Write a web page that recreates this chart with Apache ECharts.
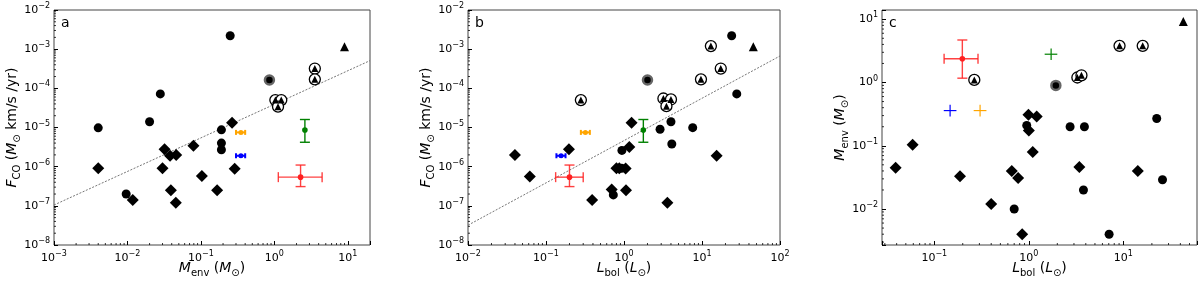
<!DOCTYPE html>
<html><head><meta charset="utf-8">
<script src="https://cdn.jsdelivr.net/npm/echarts@6/dist/echarts.min.js"></script>
<style>html,body{margin:0;padding:0;background:#fff}#c{width:1200px;height:281px}</style>
</head><body><div id="c"></div>
<script>
// ---------------- data ----------------
// panel a: Menv (Msun) vs F_CO
const aCircles = [[0.004,9.8e-6],[0.028,7.2e-5],[0.020,1.4e-5],[0.25,2.2e-3],[0.19,8.7e-6],[0.19,4.0e-6],[0.19,2.7e-6],[0.0096,2.0e-7]];
const aDiamonds = [[0.004,9.1e-7],[0.032,2.8e-6],[0.038,1.9e-6],[0.046,2.0e-6],[0.030,9.1e-7],[0.039,2.5e-7],[0.0455,1.2e-7],[0.0118,1.4e-7],[0.079,3.4e-6],[0.103,5.8e-7],[0.166,2.5e-7],[0.288,8.9e-7],[0.265,1.33e-5]];
const aRingTri = [[3.55,3.2e-4],[3.55,1.7e-4],[1.03,5.0e-5],[1.24,5.0e-5],[1.12,3.4e-5]];
const aRingCircle = [[0.855,1.63e-4]];
const aTriangle = [[9.0,1.16e-3]];
// error points: [x, y, xlo, xhi, ylo, yhi]
const aOrange = [0.35,7.5e-6,0.30,0.40,7.5e-6,7.5e-6];
const aBlue = [0.35,1.9e-6,0.30,0.40,1.9e-6,1.9e-6];
const aGreen = [2.6,8.6e-6,2.6,2.6,4.2e-6,1.6e-5];
const aRed = [2.27,5.4e-7,1.13,4.46,3.1e-7,1.1e-6];
const aFitX = [0.001,20];
const aFitY = [1.05e-7,5.1e-4];

// panel b: Lbol (Lsun) vs F_CO
const bCircles = [[0.73,1.9e-7],[0.93,9.1e-7],[0.94,2.6e-6],[2.9,9.0e-6],[4.0,1.4e-5],[7.6,9.9e-6],[4.1,3.8e-6],[27.9,7.2e-5],[24,2.2e-3]];
const bDiamonds = [[0.04,2.0e-6],[0.062,5.6e-7],[0.197,2.8e-6],[0.39,1.4e-7],[1.25,1.33e-5],[0.80,9.1e-7],[0.87,9.1e-7],[1.05,9.0e-7],[0.695,2.6e-7],[1.06,2.5e-7],[3.6,1.2e-7],[15.4,1.9e-6],[1.17,3.2e-6]];
const bRingTri = [[0.28,5.0e-5],[13,1.2e-3],[17.4,3.2e-4],[9.7,1.7e-4],[3.2,5.5e-5],[4.0,5.2e-5],[3.5,3.5e-5]];
const bRingCircle = [[2.0,1.63e-4]];
const bTriangle = [[45.5,1.16e-3]];
const bOrange = [0.32,7.5e-6,0.28,0.365,7.5e-6,7.5e-6];
const bBlue = [0.156,1.9e-6,0.136,0.178,1.9e-6,1.9e-6];
const bGreen = [1.77,8.6e-6,1.77,1.77,4.2e-6,1.6e-5];
const bRed = [0.2,5.4e-7,0.133,0.30,3.1e-7,1.1e-6];
const bFitX = [0.01,100];
const bFitY = [3.2e-8,6.7e-4];

// panel c: Lbol vs Menv
const cCircles = [[0.95,0.21],[2.73,0.2],[3.87,0.2],[22.5,0.27],[25.9,0.029],[3.78,0.02],[0.70,0.01],[7.06,0.004]];
const cDiamonds = [[0.99,0.31],[1.21,0.29],[1.0,0.175],[1.1,0.08],[0.66,0.04],[0.77,0.031],[3.42,0.046],[14.2,0.04],[0.40,0.012],[0.85,0.004],[0.039,0.045],[0.059,0.104],[0.187,0.033]];
const cRingTri = [[0.265,1.1],[9.1,3.8],[16,3.8],[3.26,1.2],[3.6,1.3]];
const cRingCircle = [[1.93,0.9]];
const cTriangle = [[43,9.2]];
const cRed = [0.198,2.37,0.127,0.29,1.17,4.7];
const cBlue = [0.147,0.36,0.126,0.1715,0.291,0.445];
const cOrange = [0.305,0.36,0.261,0.356,0.291,0.445];
const cGreen = [1.72,2.8,1.47,2.0,2.27,3.46];

// axis ranges
const aXRange = [0.001,20];
const bXRange = [0.01,100];
const cXRange = [0.028,60];
const fYRange = [1e-8,1e-2];
const cYRange = [0.0027,14];

const panelLetters = ['a','b','c'];

// ---------------- helpers ----------------
const FONT = 'DejaVu Sans';
function isPow10(v){const l=Math.log10(v);return Math.abs(l-Math.round(l))<1e-6;}
function tickFmt(v){
  if(!isPow10(v)) return '';
  const e=Math.round(Math.log10(v));
  return '{n|10}{sup|'+(e<0?'\u2212':'')+Math.abs(e)+'}';
}
const tickRich = {
  n:{fontSize:11,fontFamily:FONT,color:'#000',lineHeight:16,verticalAlign:'middle'},
  sup:{fontSize:8,fontFamily:FONT,color:'#000',lineHeight:8,verticalAlign:'top'}
};
const nameRich = {
  n:{fontSize:14,fontFamily:FONT,color:'#000',lineHeight:20,verticalAlign:'middle'},
  i:{fontSize:14,fontFamily:FONT,fontStyle:'italic',color:'#000',lineHeight:20,verticalAlign:'middle'},
  sub:{fontSize:10,fontFamily:FONT,color:'#000',lineHeight:10,verticalAlign:'bottom'}
};
function minorVals(r){
  const out=[];
  for(let d=Math.floor(Math.log10(r[0]));d<=Math.ceil(Math.log10(r[1]));d++){
    for(let k=2;k<=9;k++){const v=k*Math.pow(10,d);if(v>r[0]&&v<r[1])out.push([v]);}
  }
  return out;
}
function xAxisDef(idx,range,name){
  return {type:'log',logBase:10,gridIndex:idx,min:range[0],max:range[1],
    axisLine:{show:false},splitLine:{show:false},
    axisTick:{show:true,inside:true,length:4,lineStyle:{color:'#000',width:1}},
    minorTick:{show:false},
    axisLabel:{formatter:tickFmt,rich:tickRich,margin:5,hideOverlap:false,showMinLabel:true,showMaxLabel:true},
    name:name,nameLocation:'middle',nameGap:13,nameMoveOverlap:false,nameTextStyle:{rich:nameRich}};
}
function yAxisDef(idx,range,name){
  return {type:'log',logBase:10,gridIndex:idx,min:range[0],max:range[1],
    axisLine:{show:false},splitLine:{show:false},
    axisTick:{show:true,inside:true,length:4,lineStyle:{color:'#000',width:1}},
    minorTick:{show:false},
    axisLabel:{formatter:tickFmt,rich:tickRich,margin:4,hideOverlap:false,showMinLabel:true,showMaxLabel:true},
    name:name,nameLocation:'middle',nameGap:32,nameRotate:90,nameMoveOverlap:false,nameTextStyle:{rich:nameRich}};
}
function minorTickSeries(idx,xr,yr){
  return [
    {type:'custom',xAxisIndex:idx,yAxisIndex:idx,silent:true,clip:false,z:1,
     data:minorVals(xr),encode:{x:0},
     renderItem:function(p,api){const c=api.coord([api.value(0),yr[0]]);
       return {type:'line',shape:{x1:c[0],y1:c[1],x2:c[0],y2:c[1]-2},style:{stroke:'#000',lineWidth:0.8}};}},
    {type:'custom',xAxisIndex:idx,yAxisIndex:idx,silent:true,clip:false,z:1,
     data:minorVals(yr).map(v=>[xr[0],v[0]]),encode:{x:0,y:1},
     renderItem:function(p,api){const c=api.coord([xr[0],api.value(1)]);
       return {type:'line',shape:{x1:c[0],y1:c[1],x2:c[0]+2,y2:c[1]},style:{stroke:'#000',lineWidth:0.8}};}}
  ];
}
function errSeries(idx,pt,o){
  return {type:'custom',xAxisIndex:idx,yAxisIndex:idx,silent:true,z:5,
    data:[pt],encode:{x:0,y:1},
    renderItem:function(p,api){
      const x=api.value(0),y=api.value(1),xlo=api.value(2),xhi=api.value(3),ylo=api.value(4),yhi=api.value(5);
      const c=api.coord([x,y]);const ch=[];
      const st={stroke:o.color,lineWidth:o.lw,opacity:o.alpha||1};
      if(xlo!==xhi){const p1=api.coord([xlo,y]),p2=api.coord([xhi,y]);
        ch.push({type:'line',shape:{x1:p1[0],y1:p1[1],x2:p2[0],y2:p2[1]},style:st});
        if(o.cap){ch.push({type:'line',shape:{x1:p1[0],y1:p1[1]-o.cap,x2:p1[0],y2:p1[1]+o.cap},style:st});
          ch.push({type:'line',shape:{x1:p2[0],y1:p2[1]-o.cap,x2:p2[0],y2:p2[1]+o.cap},style:st});}}
      if(ylo!==yhi){const p1=api.coord([x,ylo]),p2=api.coord([x,yhi]);
        ch.push({type:'line',shape:{x1:p1[0],y1:p1[1],x2:p2[0],y2:p2[1]},style:st});
        if(o.cap){ch.push({type:'line',shape:{x1:p1[0]-o.cap,y1:p1[1],x2:p1[0]+o.cap,y2:p1[1]},style:st});
          ch.push({type:'line',shape:{x1:p2[0]-o.cap,y1:p2[1],x2:p2[0]+o.cap,y2:p2[1]},style:st});}}
      if(o.dot)ch.push({type:'circle',shape:{cx:c[0],cy:c[1],r:o.dot},style:{fill:o.color}});
      return {type:'group',children:ch};
    }};
}
function markerSeries(idx,circ,diam,ringTri,ringCirc,tri){
  const base={type:'scatter',xAxisIndex:idx,yAxisIndex:idx,silent:true,z:3};
  return [
    Object.assign({},base,{data:circ,symbol:'circle',symbolSize:9,itemStyle:{color:'#000',opacity:1}}),
    Object.assign({},base,{data:diam,symbol:'diamond',symbolSize:12,itemStyle:{color:'#000',opacity:1}}),
    Object.assign({},base,{data:ringCirc,symbol:'circle',symbolSize:9,itemStyle:{color:'#000',borderColor:'#666',borderWidth:2.5,opacity:1}}),
    Object.assign({},base,{data:ringTri,symbol:'circle',symbolSize:11,itemStyle:{color:'#fff',borderColor:'#000',borderWidth:1.3,opacity:1}}),
    Object.assign({},base,{data:ringTri,symbol:'triangle',symbolSize:7,z:4,itemStyle:{color:'#000',opacity:1}}),
    Object.assign({},base,{data:tri,symbol:'triangle',symbolSize:9,itemStyle:{color:'#000',opacity:1}})
  ];
}
function fitSeries(idx,xs,ys){
  return {type:'line',xAxisIndex:idx,yAxisIndex:idx,silent:true,z:2,symbol:'none',
    data:xs.map((x,i)=>[x,ys[i]]),lineStyle:{color:'#666',width:0.9,type:[2,1.5]}};
}

const FCOname='{i|F}{sub|CO}{n| (}{i|M}{sub|\u2299}{n| km/s /yr)}';
const Menvname='{i|M}{sub|env}{n| (}{i|M}{sub|\u2299}{n|)}';
const Lbolname='{i|L}{sub|bol}{n| (}{i|L}{sub|\u2299}{n|)}';

const grids=[
  {left:54,top:10,width:316,height:235},
  {left:468,top:10,width:312,height:235},
  {left:882,top:10,width:315,height:235}
].map(g=>Object.assign(g,{show:true,borderColor:'#444',borderWidth:1,backgroundColor:'transparent',containLabel:false,outerBoundsMode:'none'}));

const series=[].concat(
  fitSeries(0,aFitX,aFitY),
  markerSeries(0,aCircles,aDiamonds,aRingTri,aRingCircle,aTriangle),
  errSeries(0,aOrange,{color:'#ffa500',lw:2,cap:2.5,dot:2.5}),
  errSeries(0,aBlue,{color:'#0000ff',lw:2,cap:2.5,dot:2.5}),
  errSeries(0,aGreen,{color:'#008000',lw:1.4,cap:5,dot:2.8}),
  errSeries(0,aRed,{color:'#ff2020',lw:1.4,cap:5,dot:2.8,alpha:0.85}),
  minorTickSeries(0,aXRange,fYRange),

  fitSeries(1,bFitX,bFitY),
  markerSeries(1,bCircles,bDiamonds,bRingTri,bRingCircle,bTriangle),
  errSeries(1,bOrange,{color:'#ffa500',lw:2,cap:2.5,dot:2.5}),
  errSeries(1,bBlue,{color:'#0000ff',lw:2,cap:2.5,dot:2.5}),
  errSeries(1,bGreen,{color:'#008000',lw:1.4,cap:5,dot:2.8}),
  errSeries(1,bRed,{color:'#ff2020',lw:1.4,cap:5,dot:2.8,alpha:0.85}),
  minorTickSeries(1,bXRange,fYRange),

  markerSeries(2,cCircles,cDiamonds,cRingTri,cRingCircle,cTriangle),
  errSeries(2,cBlue,{color:'#0000ff',lw:1.2}),
  errSeries(2,cOrange,{color:'#ffa500',lw:1.2}),
  errSeries(2,cGreen,{color:'#008000',lw:1.2}),
  errSeries(2,cRed,{color:'#ff2020',lw:1.4,cap:5,dot:2.8,alpha:0.85}),
  minorTickSeries(2,cXRange,cYRange)
);

const chart=echarts.init(document.getElementById('c'),null,{renderer:'canvas'});
chart.setOption({
  animation:false,
  backgroundColor:'#fff',
  textStyle:{fontFamily:FONT},
  grid:grids,
  xAxis:[xAxisDef(0,aXRange,Menvname),xAxisDef(1,bXRange,Lbolname),xAxisDef(2,cXRange,Lbolname)],
  yAxis:[yAxisDef(0,fYRange,FCOname),yAxisDef(1,fYRange,FCOname),yAxisDef(2,cYRange,Menvname)],
  graphic:panelLetters.map((t,i)=>({type:'text',left:grids[i].left+7,top:16,
    style:{text:t,font:'14px "DejaVu Sans"',fill:'#000'}})),
  series:series
});
</script></body></html>
